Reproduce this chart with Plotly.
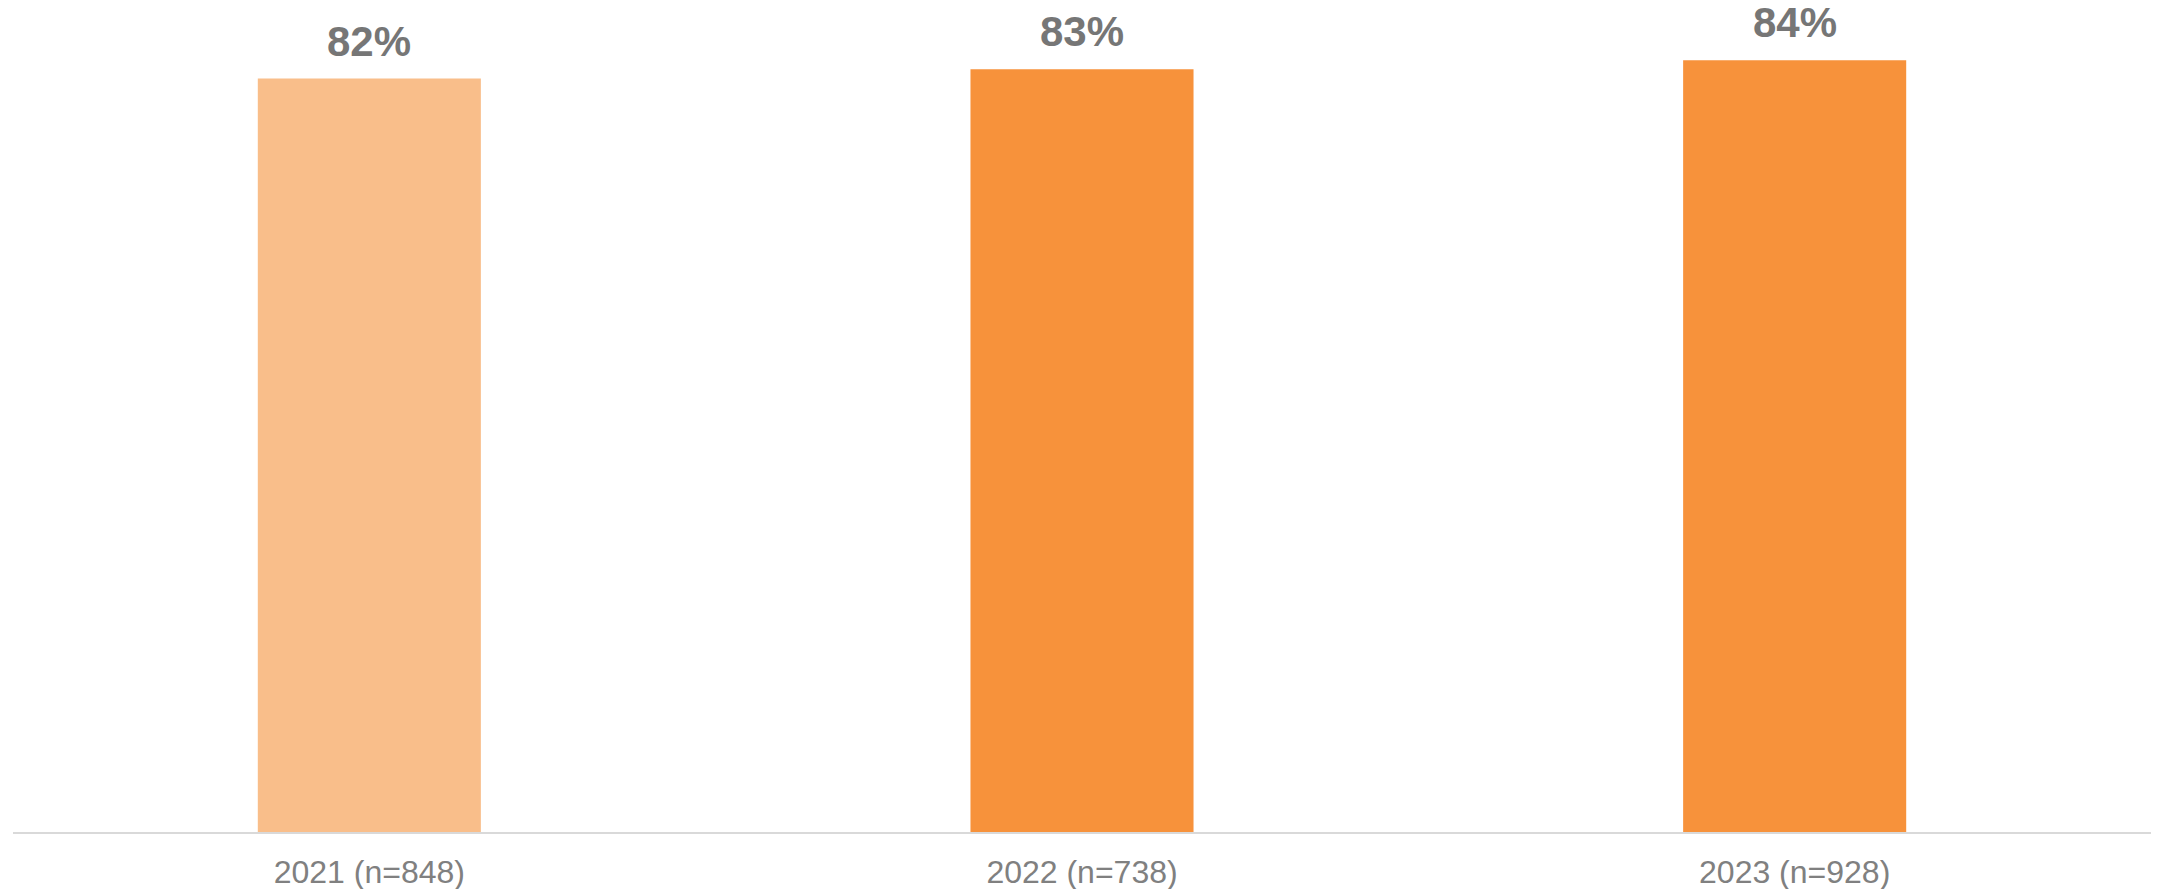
import plotly.graph_objects as go

# Survey results by year
categories = ["2021 (n=848)", "2022 (n=738)", "2023 (n=928)"]
values = [82, 83, 84]
labels = ["82%", "83%", "84%"]
bar_colors = ["#F9BE8A", "#F7923B", "#F7923B"]

fig = go.Figure()
fig.add_trace(go.Bar(
    x=categories,
    y=values,
    marker=dict(color=bar_colors, line=dict(width=0)),
    hoverinfo="skip",
))

for cat, val, lab in zip(categories, values, labels):
    fig.add_annotation(
        x=cat, y=val, text=f"<b>{lab}</b>",
        showarrow=False, yanchor="bottom", yshift=12,
        font=dict(family="Liberation Sans, Arial, sans-serif", size=42, color="#767676"),
    )

fig.update_layout(
    width=2168, height=889,
    margin=dict(l=13, r=17, t=5, b=57),
    paper_bgcolor="white", plot_bgcolor="white",
    bargap=0.687,
    showlegend=False,
    xaxis=dict(
        showline=True, linecolor="#D9D9D9", linewidth=2,
        showgrid=False, ticks="", ticklabelstandoff=11, automargin=False,
        tickfont=dict(family="Liberation Sans, Arial, sans-serif", size=32, color="#808080"),
    ),
    yaxis=dict(range=[0, 90], visible=False, showgrid=False, zeroline=False),
)

fig.write_html("out.html")
